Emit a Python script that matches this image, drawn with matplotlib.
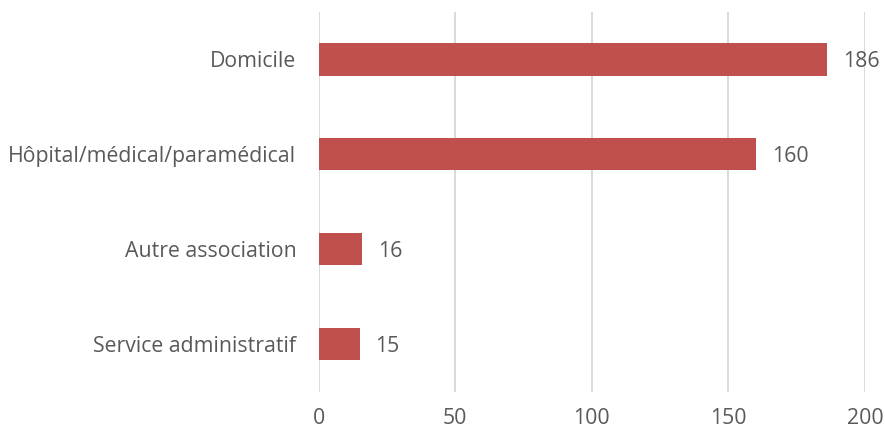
import matplotlib
matplotlib.use("Agg")
import matplotlib.pyplot as plt

categories = ["Domicile", "Hôpital/médical/paramédical", "Autre association", "Service administratif"]
values = [186, 160, 16, 15]
x_ticks = [0, 50, 100, 150, 200]

bar_color = "#C0504D"
text_color = "#595959"
grid_color = "#D9D9D9"

plt.rcParams["font.family"] = ["Open Sans", "DejaVu Sans"]
fs = 15.3

fig = plt.figure(figsize=(8.85, 4.32), dpi=100)
ax = fig.add_axes([0.36, 0.0935, 0.6175, 0.8787])

# reverse so the first category sits on top
ypos = list(range(len(categories)))[::-1]
ax.barh(ypos, values, height=0.34, color=bar_color, zorder=3)

for y, v in zip(ypos, values):
    ax.annotate(f"{v}", xy=(v, y), xytext=(11.5, 0), textcoords="offset points",
                va="center_baseline", ha="left", fontsize=fs, color=text_color)

ax.set_xlim(0, 200)
ax.set_ylim(-0.5, len(categories) - 0.5)
ax.set_xticks(x_ticks)
ax.set_xticklabels([str(t) for t in x_ticks])
ax.set_yticks(ypos)
ax.set_yticklabels(categories)

ax.tick_params(axis="both", length=0, labelsize=fs, labelcolor=text_color)
ax.tick_params(axis="y", pad=16)
ax.tick_params(axis="x", pad=12)

ax.grid(axis="x", color=grid_color, linewidth=1.4, zorder=0)
for s in ax.spines.values():
    s.set_visible(False)

fig.savefig("out.png", dpi=100, facecolor="white")
